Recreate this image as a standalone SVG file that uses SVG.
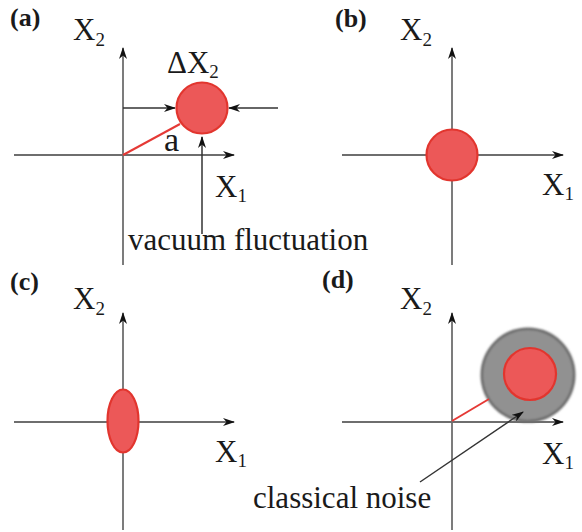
<svg xmlns="http://www.w3.org/2000/svg" width="582" height="532" viewBox="0 0 582 532">
<style>
  .ax{stroke:#6e6e6e;stroke-width:1.8;fill:none}
  .ar{stroke:#333;stroke-width:1.5;fill:none}
  .t{font-family:"Liberation Serif","Times New Roman",serif;font-size:31px;fill:#1a1a1a}
  .sub{font-size:19px}
  .lab{font-family:"Liberation Serif","Times New Roman",serif;font-size:26px;font-weight:bold;fill:#1a1a1a}
  .red{fill:#ec5858;stroke:#e2362f;stroke-width:2.2}
  .vec{stroke:#e53935;stroke-width:2;fill:none}
</style>
<defs>
  <marker id="ah" viewBox="0 0 12 8" refX="11" refY="4" markerWidth="12" markerHeight="8" markerUnits="userSpaceOnUse" orient="auto">
    <path d="M0,0 L12,4 L0,8 L3.5,4 z" fill="#111"/>
  </marker>
  <filter id="soft" x="-20%" y="-20%" width="140%" height="140%">
    <feGaussianBlur stdDeviation="0.5"/>
  </filter>
  <filter id="soft2" x="-20%" y="-20%" width="140%" height="140%">
    <feGaussianBlur stdDeviation="1.2"/>
  </filter>
</defs>

<g id="connectors">
  <!-- panel a -->
  <line class="ax" x1="123" y1="265" x2="123" y2="48" marker-end="url(#ah)"/>
  <line class="ax" x1="14" y1="155" x2="234" y2="155" marker-end="url(#ah)"/>
  <line class="ar" x1="123" y1="108" x2="175" y2="108" marker-end="url(#ah)"/>
  <line class="ar" x1="278" y1="108" x2="229" y2="108" marker-end="url(#ah)"/>
  <line class="ar" x1="202" y1="234" x2="202" y2="137" marker-end="url(#ah)"/>
  <line class="vec" x1="123" y1="155" x2="180" y2="124"/>
  <!-- panel b -->
  <line class="ax" x1="452" y1="265" x2="452" y2="48" marker-end="url(#ah)"/>
  <line class="ax" x1="342" y1="155" x2="563" y2="155" marker-end="url(#ah)"/>
  <!-- panel c -->
  <line class="ax" x1="123" y1="530" x2="123" y2="313" marker-end="url(#ah)"/>
  <line class="ax" x1="14" y1="422" x2="234" y2="422" marker-end="url(#ah)"/>
  <!-- panel d -->
  <line class="ax" x1="452" y1="530" x2="452" y2="313" marker-end="url(#ah)"/>
</g>

<g id="panel-a">
  <text class="lab" x="10" y="26">(a)</text>
  <text class="t" x="73" y="40">X<tspan class="sub" dy="6">2</tspan></text>
  <text class="t" x="167" y="73">ΔX<tspan class="sub" dy="5">2</tspan></text>
  <text class="t" x="215" y="197">X<tspan class="sub" dy="5">1</tspan></text>
  <text class="t" x="164" y="151" style="font-size:34px">a</text>
  <text class="t" x="128" y="250">vacuum fluctuation</text>
</g>
<g id="state-a">
  <circle class="red" cx="202" cy="108" r="25.5" filter="url(#soft)"/>
</g>

<g id="panel-b">
  <text class="lab" x="335" y="27">(b)</text>
  <text class="t" x="400" y="40">X<tspan class="sub" dy="6">2</tspan></text>
  <text class="t" x="542" y="195">X<tspan class="sub" dy="5">1</tspan></text>
</g>
<g id="state-b">
  <circle class="red" cx="452" cy="155" r="25.5" filter="url(#soft)"/>
</g>

<g id="panel-c">
  <text class="lab" x="10" y="290">(c)</text>
  <text class="t" x="73" y="309">X<tspan class="sub" dy="6">2</tspan></text>
  <text class="t" x="215" y="462">X<tspan class="sub" dy="5">1</tspan></text>
</g>
<g id="state-c">
  <ellipse class="red" cx="123" cy="421" rx="15.5" ry="31.5" filter="url(#soft)"/>
</g>

<g id="panel-d">
  <text class="lab" x="322" y="288">(d)</text>
  <text class="t" x="400" y="309">X<tspan class="sub" dy="6">2</tspan></text>
  <text class="t" x="542" y="464">X<tspan class="sub" dy="5">1</tspan></text>
  <text class="t" x="253" y="508">classical noise</text>
</g>
<g id="state-d">
  <circle cx="528" cy="375" r="47.5" fill="#6a6a6a" filter="url(#soft2)"/>
  <circle cx="528" cy="375" r="45" fill="#919191" filter="url(#soft2)"/>
  <circle class="red" cx="530" cy="374" r="26" filter="url(#soft)"/>
</g>

<g id="connectors-d">
  <line class="ax" x1="342" y1="422" x2="563" y2="422" marker-end="url(#ah)"/>
  <line class="vec" x1="452" y1="421" x2="489" y2="399"/>
  <line class="ar" x1="420" y1="482" x2="523" y2="412" marker-end="url(#ah)"/>
</g>
</svg>
